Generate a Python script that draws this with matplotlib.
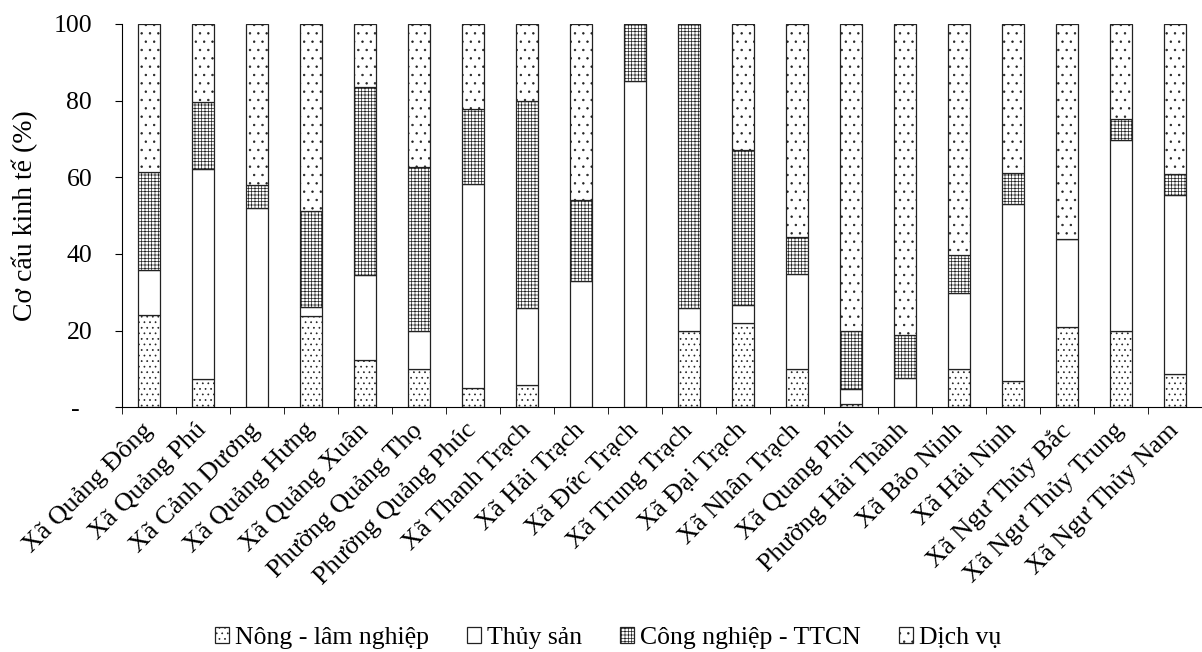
import numpy as np
import matplotlib.pyplot as plt

plt.rcParams['font.family'] = ['Liberation Serif', 'DejaVu Serif']
plt.rcParams['hatch.linewidth'] = 0.5

# Cơ cấu kinh tế theo xã / phường (%)
communes = ["Xã Quảng Đông", "Xã Quảng Phú", "Xã Cảnh Dương", "Xã Quảng Hưng",
            "Xã Quảng Xuân", "Phường Quảng Thọ", "Phường Quảng Phúc", "Xã Thanh Trạch",
            "Xã Hải Trạch", "Xã Đức Trạch", "Xã Trung Trạch", "Xã Đại Trạch",
            "Xã Nhân Trạch", "Xã Quang Phú", "Phường Hải Thành", "Xã Bảo Ninh",
            "Xã Hải Ninh", "Xã Ngư Thủy Bắc", "Xã Ngư Thủy Trung", "Xã Ngư Thủy Nam"]
nong_lam = [24, 7.4, 0, 23.7, 12.3, 10, 5.1, 5.8, 0, 0, 20, 21.9, 10, 0.8, 0, 10, 6.9, 21, 20, 8.8]
thuy_san = [11.8, 54.7, 52, 2.4, 22.2, 10, 53.2, 20, 33, 85.1, 5.8, 4.9, 24.9, 4, 7.7, 19.7, 46.1, 23, 49.8, 46.5]
cong_nghiep = [25.7, 17.6, 5.9, 25, 49.1, 42.7, 19.6, 54.1, 21, 14.9, 74.2, 40.2, 9.4, 15.2, 11.1, 10, 8.1, 0, 5.3, 5.5]
dich_vu = [38.5, 20.3, 42.1, 48.9, 16.4, 37.3, 22.1, 20.1, 46, 0, 0, 33, 55.7, 80, 81.2, 60.3, 38.9, 56, 24.9, 39.2]

series = [("Nông - lâm nghiệp", nong_lam, '...'),
          ("Thủy sản", thuy_san, ''),
          ("Công nghiệp - TTCN", cong_nghiep, '+++++'),
          ("Dịch vụ", dich_vu, '..')]

fig = plt.figure(figsize=(12.02, 6.52), dpi=100)
ax = fig.add_axes([0.1015, 0.3753, 0.8985, 0.5879])

x = np.arange(len(communes))
bottom = np.zeros(len(communes))
for name, vals, hatch in series:
    vals = np.array(vals)
    ax.bar(x, vals, 0.39, bottom=bottom, color='white', edgecolor='#222222',
           linewidth=0.9, hatch=hatch, label=name)
    bottom += vals

ax.set_xlim(-0.5, len(communes) - 0.5)
ax.set_ylim(0, 100)
ax.set_yticks([0, 20, 40, 60, 80, 100])
ax.set_yticklabels(['-  ', '20', '40', '60', '80', '100'])
ax.set_ylabel("Cơ cấu kinh tế (%)", fontsize=20)
ax.yaxis.set_label_coords(-0.078, 0.5)

ax.set_xticks(x)
ax.set_xticklabels(communes, rotation=45, ha='right', va='center',
                   rotation_mode='anchor')
ax.tick_params(axis='x', which='major', length=0, labelsize=19, pad=14)
ax.set_xticks(np.arange(-0.5, len(communes), 1), minor=True)
ax.tick_params(axis='x', which='minor', length=5, direction='out')
ax.tick_params(axis='y', labelsize=18.5, length=5, direction='out', pad=16.5)

for s in ['top', 'right']:
    ax.spines[s].set_visible(False)

fig.legend(*ax.get_legend_handles_labels(), loc='center',
           bbox_to_anchor=(0.506, 0.021), ncol=4, frameon=False,
           fontsize=18.5, handlelength=0.55, handleheight=0.55,
           handletextpad=0.23, columnspacing=1.48, borderpad=0)

fig.savefig('out.png', dpi=100)
